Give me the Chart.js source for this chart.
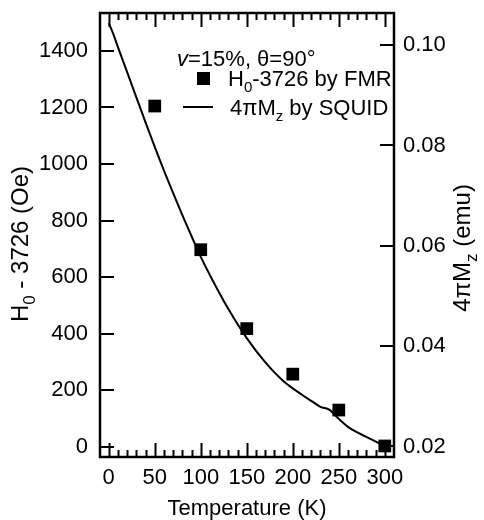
<!DOCTYPE html>
<html>
<head>
<meta charset="utf-8">
<script src="https://cdn.jsdelivr.net/npm/chart.js@4.4.1/dist/chart.umd.min.js"></script>
<style>
  html, body { margin: 0; padding: 0; background: #fff; }
  #wrap { width: 484px; height: 520px; }
</style>
</head>
<body>
<div id="wrap"><canvas id="chart" width="484" height="520"></canvas></div>
<script>
// --- Data ---
const fmrTemps = [50, 100, 150, 200, 250, 300];
const fmrShift = [1205, 697, 418, 257, 130, 3];

const squidTemps = [0, 5, 10, 20, 30, 40, 50, 60, 70, 80, 90, 100, 115, 130, 150,
                    170, 190, 210, 220, 230, 240, 250, 260, 280, 300];
const squidMz = [0.1044, 0.1022, 0.0996, 0.0946, 0.0896, 0.0846, 0.0797, 0.0750, 0.0705, 0.0661,
                 0.0619, 0.0578, 0.0524, 0.0474, 0.0416, 0.0368, 0.0330, 0.0303, 0.0291, 0.0279,
                 0.0273, 0.0255, 0.0239, 0.0219, 0.0201];

const xTicks = [0, 50, 100, 150, 200, 250, 300];
const leftTicks = [0, 200, 400, 600, 800, 1000, 1200, 1400];
const rightTicks = [0.02, 0.04, 0.06, 0.08, 0.10];

const FONT = "'Liberation Sans', Arial, Helvetica, sans-serif";
const SIZE = 22;
const TITLE_SIZE = 24;

// draws a run of text pieces; a piece is [text, style] with style 'sub', 'it' or none
function drawRich(ctx, parts, x, y, size, align) {
    const fontFor = p => {
        if (p[1] === 'sub') return `${Math.round(size * 0.7)}px ${FONT}`;
        if (p[1] === 'it') return `italic ${size}px ${FONT}`;
        return `${size}px ${FONT}`;
    };
    let total = 0;
    parts.forEach(p => { ctx.font = fontFor(p); total += ctx.measureText(p[0]).width; });
    let cx = align === 'center' ? x - total / 2 : (align === 'right' ? x - total : x);
    ctx.textAlign = 'left';
    ctx.textBaseline = 'alphabetic';
    parts.forEach(p => {
        ctx.font = fontFor(p);
        ctx.fillText(p[0], cx, y + (p[1] === 'sub' ? size * 0.28 : 0));
        cx += ctx.measureText(p[0]).width;
    });
}

// frame, inward ticks, titles and the key
const framePlugin = {
    id: 'frame',
    afterDraw(chart) {
        const { ctx, chartArea: a, scales } = chart;
        const sx = scales.x, sy = scales.y, sy1 = scales.y1;
        ctx.save();
        ctx.strokeStyle = '#000';
        ctx.fillStyle = '#000';

        // ticks
        ctx.lineWidth = 2;
        ctx.beginPath();
        for (let t = 0; t <= 300; t += 10) {
            const px = Math.round(sx.getPixelForValue(t)) + 0.5;
            const len = t % 50 === 0 ? 14 : 7;
            ctx.moveTo(px, a.bottom); ctx.lineTo(px, a.bottom - len);
            ctx.moveTo(px, a.top); ctx.lineTo(px, a.top + len);
        }
        leftTicks.forEach(v => {
            const py = Math.round(sy.getPixelForValue(v));
            ctx.moveTo(a.left, py); ctx.lineTo(a.left + 14, py);
        });
        rightTicks.forEach(v => {
            const py = Math.round(sy1.getPixelForValue(v));
            ctx.moveTo(a.right, py); ctx.lineTo(a.right - 14, py);
        });
        ctx.stroke();

        // frame
        ctx.lineWidth = 2.5;
        ctx.strokeRect(a.left, a.top, a.right - a.left, a.bottom - a.top);

        // axis titles
        drawRich(ctx, [['Temperature (K)']], (a.left + a.right) / 2, 515, SIZE, 'center');

        ctx.save();
        ctx.translate(28, 244);
        ctx.rotate(-Math.PI / 2);
        drawRich(ctx, [['H'], ['0', 'sub'], [' - 3726 (Oe)']], 0, 0, TITLE_SIZE, 'center');
        ctx.restore();

        ctx.save();
        ctx.translate(470, 248);
        ctx.rotate(-Math.PI / 2);
        drawRich(ctx, [['4\u03c0M'], ['z', 'sub'], [' (emu)']], 0, 0, TITLE_SIZE, 'center');
        ctx.restore();

        // key
        drawRich(ctx, [['v', 'it'], ['=15%, \u03b8=90\u00b0']], 177, 66, SIZE, 'left');
        ctx.fillRect(197, 72, 13, 13);
        drawRich(ctx, [['H'], ['0', 'sub'], ['-3726 by FMR']], 228, 86, SIZE, 'left');
        ctx.lineWidth = 2;
        ctx.beginPath();
        ctx.moveTo(183, 107); ctx.lineTo(213, 107);
        ctx.stroke();
        drawRich(ctx, [['4\u03c0M'], ['z', 'sub'], [' by SQUID']], 230, 115, SIZE, 'left');

        ctx.restore();
    }
};

const tickFont = { family: FONT, size: SIZE };

// keep the plot box fixed regardless of label overhang
function noPad(s) {
    s.paddingTop = 0; s.paddingBottom = 0; s.paddingLeft = 0; s.paddingRight = 0;
}

new Chart(document.getElementById('chart').getContext('2d'), {
    type: 'scatter',
    data: {
        datasets: [
            {
                label: 'H0-3726 by FMR',
                data: fmrTemps.map((t, i) => ({ x: t, y: fmrShift[i] })),
                yAxisID: 'y',
                pointStyle: 'rect',
                pointRadius: 9,
                backgroundColor: '#000',
                borderColor: '#000',
                borderWidth: 0,
                showLine: false
            },
            {
                label: '4piMz by SQUID',
                data: squidTemps.map((t, i) => ({ x: t, y: squidMz[i] })),
                yAxisID: 'y1',
                showLine: true,
                pointRadius: 0,
                borderColor: '#000',
                borderWidth: 2,
                cubicInterpolationMode: 'monotone'
            }
        ]
    },
    options: {
        responsive: false,
        animation: false,
        layout: { padding: { top: 13, left: 0, right: 0, bottom: 0 } },
        plugins: { legend: { display: false }, tooltip: { enabled: false } },
        scales: {
            x: {
                type: 'linear',
                min: -9.5,
                max: 310,
                afterBuildTicks: s => { s.ticks = xTicks.map(v => ({ value: v })); },
                afterFit: s => { s.height = 63; noPad(s); },
                grid: { display: false, drawTicks: false },
                border: { display: false },
                ticks: { color: '#000', font: tickFont, padding: 8, maxRotation: 0, autoSkip: false }
            },
            y: {
                position: 'left',
                min: -36,
                max: 1534,
                afterBuildTicks: s => { s.ticks = leftTicks.map(v => ({ value: v })); },
                afterFit: s => { s.width = 100; noPad(s); },
                grid: { display: false, drawTicks: false },
                border: { display: false },
                ticks: { color: '#000', font: tickFont, padding: 12, autoSkip: false,
                         callback: v => String(v) }
            },
            y1: {
                position: 'right',
                min: 0.0179,
                max: 0.1064,
                afterBuildTicks: s => { s.ticks = rightTicks.map(v => ({ value: v })); },
                afterFit: s => { s.width = 90; noPad(s); },
                grid: { display: false, drawTicks: false },
                border: { display: false },
                ticks: { color: '#000', font: tickFont, padding: 9, autoSkip: false,
                         callback: v => v.toFixed(2) }
            }
        }
    },
    plugins: [framePlugin]
});
</script>
</body>
</html>
